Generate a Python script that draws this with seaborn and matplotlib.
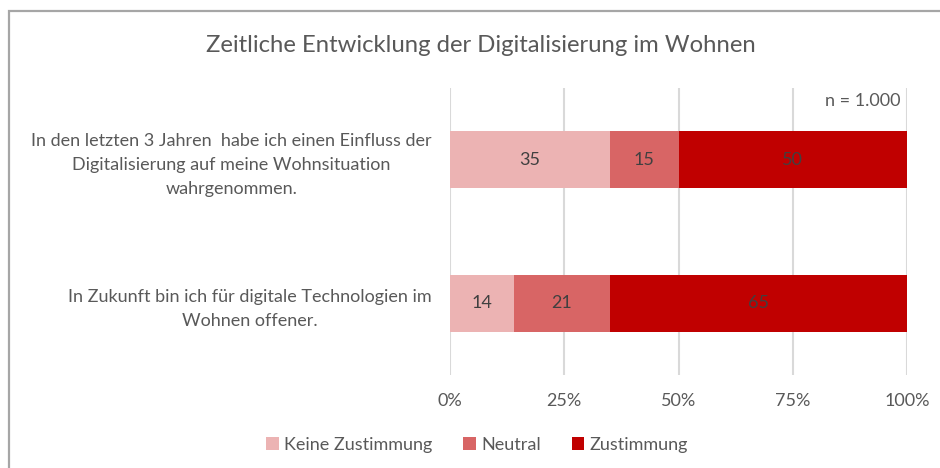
import numpy as np
import pandas as pd
import seaborn as sns
from matplotlib import pyplot as plt
from matplotlib.patches import Rectangle

# Daten
aussagen = [
    'In den letzten 3 Jahren  habe ich einen Einfluss der\nDigitalisierung auf meine Wohnsituation\nwahrgenommen.',
    'In Zukunft bin ich für digitale Technologien im\nWohnen offener.',
]
keine_zustimmung = [35, 14]
neutral = [15, 21]
zustimmung = [50, 65]
serien = ['Keine Zustimmung', 'Neutral', 'Zustimmung']
farben = ['#ECB3B3', '#D86565', '#C00000']
x_ticks = [0, 25, 50, 75, 100]
x_ticklabels = ['0%', '25%', '50%', '75%', '100%']
titel = 'Zeitliche Entwicklung der Digitalisierung im Wohnen'
n_text = 'n = 1.000'


def plot():
    sns.set_style('white')
    plt.rcParams['font.family'] = ['Lato', 'DejaVu Sans']
    grau = '#595959'
    fs = 13

    fig = plt.figure(figsize=(9.4, 4.68), dpi=100)
    ax = fig.add_axes([450 / 940, 1 - 375 / 468, 457 / 940, 287 / 468])

    # Rahmen um das Diagramm
    fig.patches.append(Rectangle((9 / 940, -0.1), 1.2, 1.1 - 11 / 468,
                                 transform=fig.transFigure, fill=False,
                                 edgecolor='#A6A6A6', linewidth=1.6))

    werte = [keine_zustimmung, neutral, zustimmung]
    links = np.zeros(len(aussagen))
    for name, vals, farbe in zip(serien, werte, farben):
        df = pd.DataFrame({'aussage': aussagen, 'wert': vals})
        sns.barplot(data=df, x='wert', y='aussage', orient='h',
                    left=links.copy(), color=farbe, label=name,
                    width=0.4, saturation=1, linewidth=0, ax=ax, zorder=3)
        # Werte in den Balken
        for i, v in enumerate(vals):
            ax.text(links[i] + v / 2, i, f'{v}', ha='center', va='center',
                    fontsize=fs, color='#404040', zorder=4)
        links += np.array(vals)

    ax.set_xlim(0, 100)
    ax.set_ylim(1.5, -0.5)
    ax.set_xticks(x_ticks)
    ax.set_xticklabels(x_ticklabels, fontsize=fs, color=grau)
    ax.set_yticks(range(len(aussagen)))
    ax.set_yticklabels(aussagen, fontsize=fs, color=grau,
                       multialignment='center', linespacing=1.6)
    ax.set_xlabel('')
    ax.set_ylabel('')
    ax.tick_params(axis='x', length=0, pad=13)
    ax.tick_params(axis='y', length=0, pad=13)
    ax.xaxis.grid(True, color='#D9D9D9', linewidth=1.5, zorder=0)
    ax.set_axisbelow(True)
    sns.despine(ax=ax, left=True, bottom=True)

    ax.text(0.985, 0.955, n_text, transform=ax.transAxes, ha='right',
            va='center', fontsize=fs, color=grau)

    fig.text(481 / 940, 1 - 45 / 468, titel, ha='center', va='center',
             fontsize=17.2, color=grau)

    ax.legend(loc='center', bbox_to_anchor=(477 / 940, 1 - 445 / 468),
              bbox_transform=fig.transFigure, ncol=3, frameon=False,
              fontsize=fs, labelcolor=grau, handlelength=0.7,
              handleheight=0.7, handletextpad=0.3, columnspacing=1.7)

    fig.savefig('out.png', dpi=100)


def main():
    plot()


if __name__ == '__main__':
    main()
